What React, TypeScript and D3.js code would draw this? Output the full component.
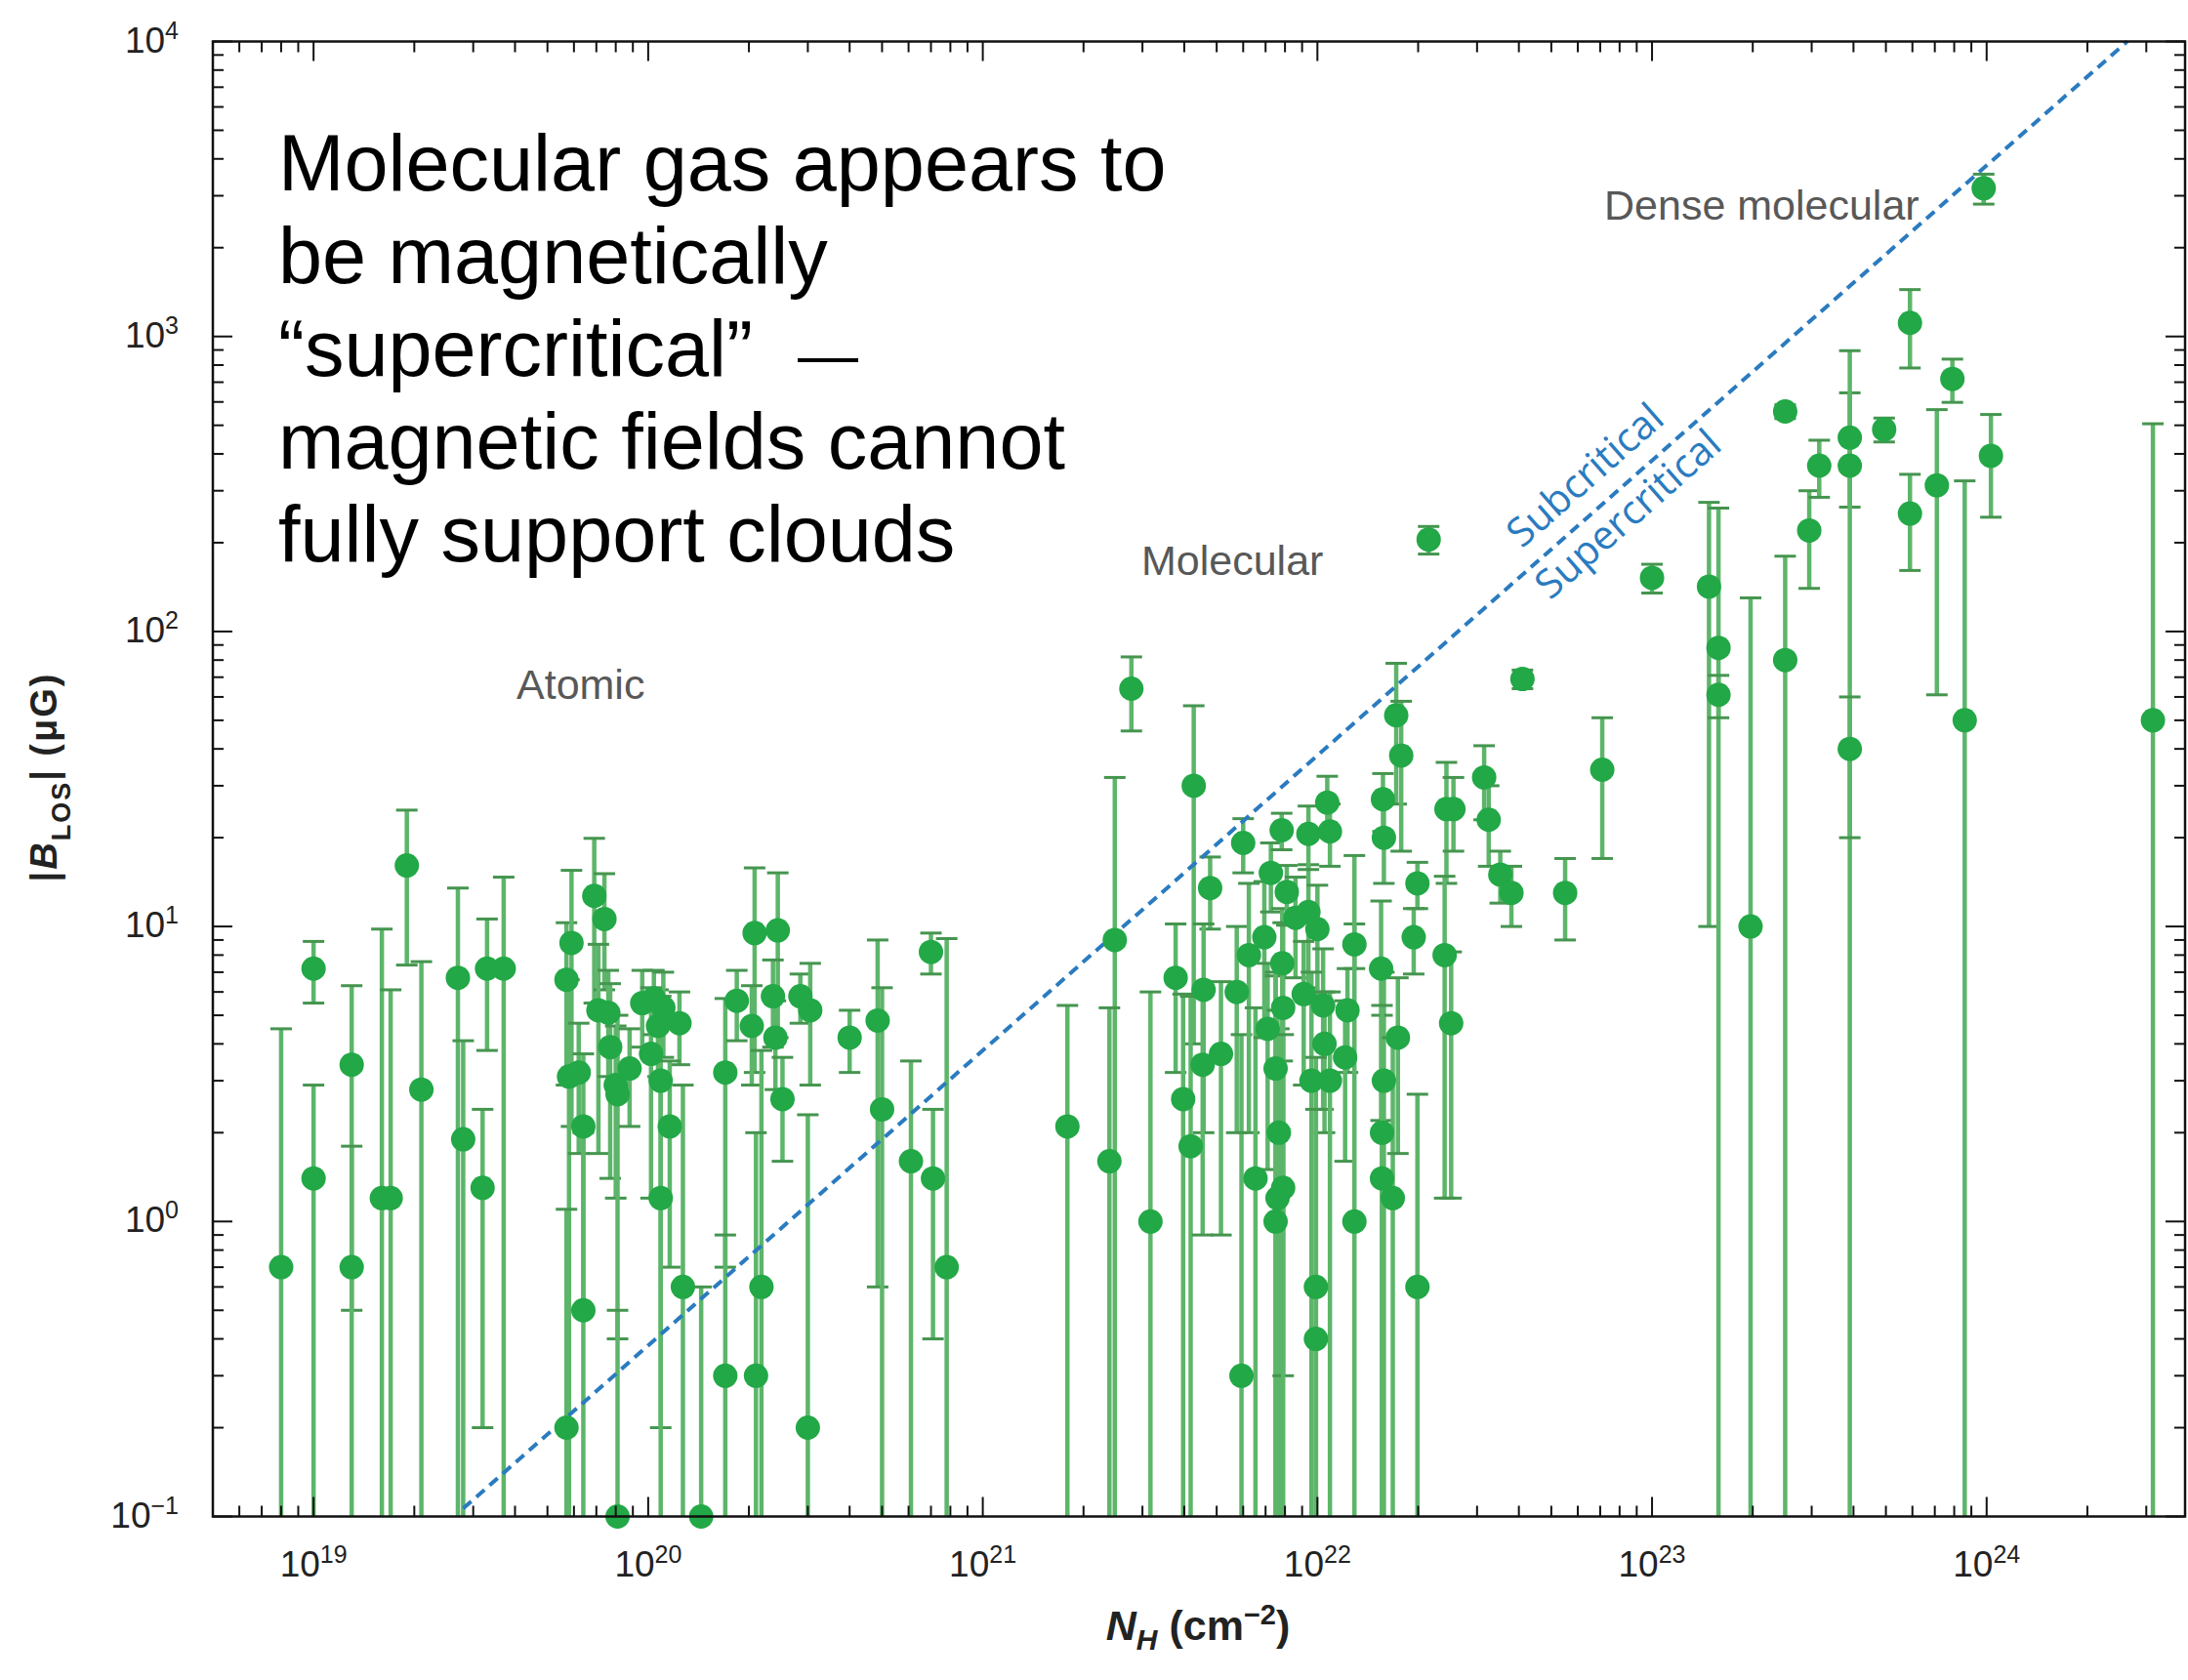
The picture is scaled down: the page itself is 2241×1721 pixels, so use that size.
import React from 'react';
import * as d3 from 'd3';

const W = 2241;
const H = 1721;
const PLOT = { left: 218, right: 2238, top: 42.5, bottom: 1553.5 };

// axis domains (log10 of column density, |B| in microgauss)
const xDomainLog: [number, number] = [18.699, 24.593];
const yDomain: [number, number] = [0.1, 1e4];
const xDecades = [19, 20, 21, 22, 23, 24];
const yDecades = [-1, 0, 1, 2, 3, 4];
const minorMultipliers = [2, 3, 4, 5, 6, 7, 8, 9];

// critical mass-to-flux line: B = ratio * N
const criticalRatio = 3.8e-21;
const criticalStartN = 2.8e19;

// [N_H (cm^-2), |B_LOS| (uG), sigma (uG)]
const atomicData: [number, number, number][] = [
  [8.0e18, 0.7, 3.8], [1.0e19, 7.2, 1.7], [1.0e19, 1.4, 1.5], [1.3e19, 3.4, 2.9],
  [1.3e19, 0.7, 1.1], [1.6e19, 1.2, 8.6], [1.7e19, 1.2, 4.9], [1.9e19, 16.1, 8.7],
  [2.1e19, 2.8, 4.8], [2.7e19, 6.7, 6.8], [2.8e19, 1.9, 2.2], [3.3e19, 7.2, 3.4],
  [3.2e19, 1.3, 1.1], [3.7e19, 7.2, 7.5], [5.7e19, 6.6, 3.7], [5.9e19, 8.8, 6.7],
  [5.8e19, 3.1, 3.5], [6.2e19, 3.2, 1.5], [6.4e19, 2.1, 1.6], [6.4e19, 0.5, 1.5],
  [5.7e19, 0.2, 0.9], [6.9e19, 12.7, 7.2], [7.4e19, 10.6, 4.5], [7.1e19, 5.2, 3.5],
  [7.6e19, 5.1, 2.0], [7.7e19, 3.9, 2.5], [8.0e19, 2.9, 1.7], [8.1e19, 2.7, 2.3],
  [8.1e19, 0.1, 0.4], [8.8e19, 3.3, 1.2], [9.6e19, 5.5, 1.6], [1.04e20, 5.7, 1.4],
  [1.07e20, 4.6, 1.5], [1.11e20, 5.3, 1.7], [1.24e20, 4.7, 1.3], [1.02e20, 3.7, 2.5],
  [1.09e20, 3.0, 2.8], [1.16e20, 2.1, 1.4], [1.09e20, 1.2, 1.8], [1.27e20, 0.6, 2.3],
  [1.44e20, 0.1, 0.5], [1.7e20, 3.2, 2.5], [1.7e20, 0.3, 0.6], [2.08e20, 9.5, 6.3],
  [2.04e20, 4.6, 1.7], [1.84e20, 5.6, 1.5], [2.18e20, 0.6, 3.2], [2.1e20, 0.3, 1.7],
  [2.44e20, 9.7, 5.5], [2.36e20, 5.8, 1.9], [2.4e20, 4.2, 1.4], [2.52e20, 2.6, 1.0],
  [2.85e20, 5.8, 1.1], [3.05e20, 5.2, 2.3], [3.0e20, 0.2, 2.1], [4.0e20, 4.2, 1.0],
  [4.85e20, 4.8, 4.2], [5.0e20, 2.4, 3.8], [6.1e20, 1.6, 1.9], [7.0e20, 8.2, 1.3],
  [7.1e20, 1.4, 1.0], [7.8e20, 0.7, 8.4],
];

const molecularData: [number, number, number][] = [
  [1.79e21, 2.1, 3.3], [2.48e21, 9.0, 23], [2.39e21, 1.6, 3.7], [2.78e21, 64, 18],
  [3.17e21, 1.0, 5.0], [4.27e21, 30, 26], [3.77e21, 6.7, 3.5], [3.97e21, 2.6, 3.3],
  [4.18e21, 1.8, 4.0], [4.78e21, 13.5, 3.7], [4.57e21, 6.1, 4.1], [4.54e21, 3.4, 2.5],
  [5.15e21, 3.7, 2.8], [6.0e21, 19.2, 4.0], [5.74e21, 6.0, 4.0], [5.93e21, 0.3, 4.0],
  [6.24e21, 8.0, 6.0], [6.53e21, 1.4, 3.9], [6.94e21, 9.2, 5.0], [7.26e21, 15.2, 4.0],
  [7.82e21, 21.2, 3.0], [7.1e21, 4.5, 3.0], [7.5e21, 3.3, 3.5], [7.67e21, 2.0, 2.5],
  [7.6e21, 1.2, 4.0], [7.5e21, 1.0, 6.0], [7.85e21, 7.5, 4.0], [7.9e21, 5.3, 5.0],
  [8.1e21, 13.1, 3.0], [8.6e21, 10.7, 4.0], [9.4e21, 11.2, 5.0], [1.0e22, 9.8, 4.0],
  [9.4e21, 20.6, 5.0], [1.07e22, 26.3, 6.0], [1.09e22, 21.0, 5.0], [9.1e21, 5.9, 3.0],
  [1.04e22, 5.4, 3.0], [1.05e22, 4.0, 2.0], [1.23e22, 5.2, 2.0], [1.21e22, 3.6, 2.0],
  [9.6e21, 3.0, 4.0], [1.09e22, 3.0, 3.0], [7.9e21, 1.3, 3.0], [9.9e21, 0.6, 3.0],
  [9.9e21, 0.4, 2.0], [1.29e22, 8.7, 1.5], [1.29e22, 1.0, 16.4], [1.57e22, 27, 6],
  [1.58e22, 20, 6], [1.55e22, 7.2, 5], [1.72e22, 52, 26], [1.78e22, 38, 20],
  [1.58e22, 3.0, 4], [1.56e22, 2.0, 3], [1.56e22, 1.4, 4], [1.68e22, 1.2, 3],
  [1.74e22, 4.2, 2.5], [1.99e22, 14, 2.5], [1.94e22, 9.2, 2.3], [1.99e22, 0.6, 2.1],
  [2.15e22, 205, 22], [2.43e22, 25, 11], [2.4e22, 8.0, 6.8], [2.51e22, 4.7, 3.5],
  [2.55e22, 25, 7], [3.15e22, 32, 9], [3.25e22, 23, 7], [3.52e22, 15, 3],
  [3.8e22, 13, 3], [4.1e22, 69, 5], [5.5e22, 13, 4], [7.1e22, 34, 17],
];

const denseData: [number, number, number][] = [
  [1.0e23, 152, 17], [1.48e23, 142, 132], [1.58e23, 88, 174], [1.58e23, 61, 10],
  [1.97e23, 10, 120], [2.5e23, 80, 100], [2.5e23, 557, 30], [2.95e23, 220, 80],
  [3.16e23, 365, 80], [3.9e23, 454, 190], [3.9e23, 365, 530], [3.9e23, 40, 20],
  [4.94e23, 484, 45], [5.9e23, 1112, 330], [5.9e23, 251, 90], [7.1e23, 313, 252],
  [7.9e23, 718, 120], [8.6e23, 50, 274], [9.8e23, 3180, 370], [1.03e24, 394, 150],
  [3.14e24, 50, 456],
];

const annotationLines = [
  'Molecular gas appears to',
  'be magnetically',
  '\u201Csupercritical\u201D',
  'magnetic fields cannot',
  'fully support clouds',
];

const regimeLabels: { text: string; x: number; y: number }[] = [
  { text: 'Atomic', x: 529, y: 716 },
  { text: 'Molecular', x: 1169, y: 589 },
  { text: 'Dense molecular', x: 1643, y: 225 },
];

const GREEN_DOT = '#22a846';
const GREEN_BAR = '#5db56a';
const GREEN_CAP = '#45954f';
const BLUE = '#2a7bbf';
const SANS = "'Liberation Sans', Arial, Helvetica, sans-serif";

export default function App() {
  const x = d3
    .scaleLog()
    .domain([Math.pow(10, xDomainLog[0]), Math.pow(10, xDomainLog[1])])
    .range([PLOT.left, PLOT.right]);
  const y = d3.scaleLog().domain(yDomain).range([PLOT.bottom, PLOT.top]);

  const allData = [...atomicData, ...molecularData, ...denseData];

  const xMinor: number[] = [];
  for (let d = 18; d <= 24; d++) {
    for (const m of minorMultipliers) {
      const v = m * Math.pow(10, d);
      const lv = Math.log10(v);
      if (lv > xDomainLog[0] && lv < xDomainLog[1]) xMinor.push(v);
    }
  }
  const yMinor: number[] = [];
  for (let d = -1; d < 4; d++) {
    for (const m of minorMultipliers) yMinor.push(m * Math.pow(10, d));
  }

  const MAJ = 20;
  const MIN = 11;
  const capHalf = 11;

  // critical line
  const endN = yDomain[1] / criticalRatio;
  const lineGen = d3
    .line<number>()
    .x((n) => x(n))
    .y((n) => y(criticalRatio * n));
  const critPath = lineGen([criticalStartN, endN]) || '';
  const angle =
    (Math.atan2(y(criticalRatio * 1e21) - y(criticalRatio * 1e22), x(1e22) - x(1e21)) * 180) / Math.PI;

  const pointOnLineAtX = (px: number) => {
    const n = x.invert(px);
    return [px, y(criticalRatio * n)];
  };
  const subPos = pointOnLineAtX(1572);
  const superPos = pointOnLineAtX(1562);

  const expLabel = (e: number) => (e < 0 ? '\u2212' + Math.abs(e) : String(e));

  return (
    <svg
      width={W}
      height={H}
      viewBox={`0 0 ${W} ${H}`}
      style={{ position: 'absolute', left: 0, top: 0, background: '#fff' }}
    >
      <rect x={0} y={0} width={W} height={H} fill="#fff" />

      {/* error bars */}
      <g>
        {allData.map(([n, b, s], i) => {
          const cx = x(n);
          const top = y(b + s);
          const low = b - s;
          const hasLow = low > yDomain[0];
          const bottom = hasLow ? y(low) : PLOT.bottom;
          return (
            <g key={'e' + i}>
              <line x1={cx} x2={cx} y1={top} y2={bottom} stroke={GREEN_BAR} strokeWidth={4.5} />
              <line x1={cx - capHalf} x2={cx + capHalf} y1={top} y2={top} stroke={GREEN_CAP} strokeWidth={3} />
              {hasLow && (
                <line x1={cx - capHalf} x2={cx + capHalf} y1={bottom} y2={bottom} stroke={GREEN_CAP} strokeWidth={3} />
              )}
            </g>
          );
        })}
      </g>

      {/* critical line */}
      <path d={critPath} fill="none" stroke={BLUE} strokeWidth={4} strokeDasharray="11 7" />

      {/* points */}
      <g>
        {allData.map(([n, b], i) => (
          <circle key={'p' + i} cx={x(n)} cy={y(b)} r={12.5} fill={GREEN_DOT} />
        ))}
      </g>

      {/* frame */}
      <rect
        x={PLOT.left}
        y={PLOT.top}
        width={PLOT.right - PLOT.left}
        height={PLOT.bottom - PLOT.top}
        fill="none"
        stroke="#111"
        strokeWidth={2.5}
      />

      {/* ticks */}
      <g stroke="#111" strokeWidth={2}>
        {xDecades.map((d) => {
          const px = x(Math.pow(10, d));
          return (
            <g key={'xM' + d}>
              <line x1={px} x2={px} y1={PLOT.bottom} y2={PLOT.bottom - MAJ} />
              <line x1={px} x2={px} y1={PLOT.top} y2={PLOT.top + MAJ} />
            </g>
          );
        })}
        {xMinor.map((v, i) => {
          const px = x(v);
          return (
            <g key={'xm' + i}>
              <line x1={px} x2={px} y1={PLOT.bottom} y2={PLOT.bottom - MIN} />
              <line x1={px} x2={px} y1={PLOT.top} y2={PLOT.top + MIN} />
            </g>
          );
        })}
        {yDecades.map((d) => {
          const py = y(Math.pow(10, d));
          return (
            <g key={'yM' + d}>
              <line x1={PLOT.left} x2={PLOT.left + MAJ} y1={py} y2={py} />
              <line x1={PLOT.right} x2={PLOT.right - MAJ} y1={py} y2={py} />
            </g>
          );
        })}
        {yMinor.map((v, i) => {
          const py = y(v);
          return (
            <g key={'ym' + i}>
              <line x1={PLOT.left} x2={PLOT.left + MIN} y1={py} y2={py} />
              <line x1={PLOT.right} x2={PLOT.right - MIN} y1={py} y2={py} />
            </g>
          );
        })}
      </g>

      {/* tick labels */}
      <g fontFamily={SANS} fill="#222">
        {xDecades.map((d) => (
          <text key={'xl' + d} x={x(Math.pow(10, d))} y={1615} textAnchor="middle" fontSize={37}>
            <tspan>10</tspan>
            <tspan dy={-14} fontSize={25}>
              {expLabel(d)}
            </tspan>
          </text>
        ))}
        {yDecades.map((d) => (
          <text key={'yl' + d} x={183} y={y(Math.pow(10, d)) + 11} textAnchor="end" fontSize={37}>
            <tspan>10</tspan>
            <tspan dy={-14} fontSize={25}>
              {expLabel(d)}
            </tspan>
          </text>
        ))}
      </g>

      {/* axis titles */}
      <text
        transform="translate(58,796) rotate(-90)"
        textAnchor="middle"
        fontFamily={SANS}
        fontWeight="bold"
        fontSize={38}
        letterSpacing={2}
        fill="#222"
      >
        <tspan>|</tspan>
        <tspan fontStyle="italic">B</tspan>
        <tspan dy={14} fontSize={27}>
          LOS
        </tspan>
        <tspan dy={-14}>| (μG)</tspan>
      </text>
      <text x={1227} y={1680} textAnchor="middle" fontFamily={SANS} fontWeight="bold" fontSize={43} fill="#222">
        <tspan fontStyle="italic">N</tspan>
        <tspan fontStyle="italic" dy={10} fontSize={30}>
          H
        </tspan>
        <tspan dy={-10}> (cm</tspan>
        <tspan dy={-16} fontSize={29}>
          {'\u2212'}2
        </tspan>
        <tspan dy={16}>)</tspan>
      </text>

      {/* regime labels */}
      <g fontFamily={SANS} fontSize={43} fill="#585858">
        {regimeLabels.map((l) => (
          <text key={l.text} x={l.x} y={l.y}>
            {l.text}
          </text>
        ))}
      </g>

      {/* critical labels */}
      <g fontFamily="'Open Sans', 'Noto Sans', sans-serif" fontSize={41} fill={BLUE}>
        <text transform={`translate(${subPos[0]},${subPos[1]}) rotate(${-angle})`} y={-20}>
          Subcritical
        </text>
        <text transform={`translate(${superPos[0]},${superPos[1]}) rotate(${-angle})`} y={39}>
          Supercritical
        </text>
      </g>

      {/* annotation */}
      <g fontFamily={SANS} fontSize={81} fill="#000">
        {annotationLines.map((t, i) => (
          <text key={i} x={285} y={195 + i * 95}>
            {t}
            {i === 2 && (
              <tspan dx={46} fontSize={62}>
                {'\u2014'}
              </tspan>
            )}
          </text>
        ))}
      </g>
    </svg>
  );
}
